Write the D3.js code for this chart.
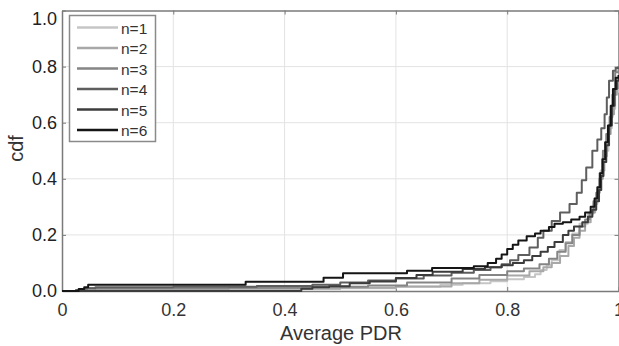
<!DOCTYPE html>
<html><head><meta charset="utf-8">
<script src="https://cdn.jsdelivr.net/npm/d3@7"></script>
<style>body{margin:0;background:#fff}svg{display:block;font-family:"Liberation Sans",Arial,sans-serif}</style>
</head><body><svg id="c" width="619" height="346"></svg>
<script>
const seriesNames = ["n=1","n=2","n=3","n=4","n=5","n=6"];
const seriesColors = ["#c6c6c6","#a8a8a8","#858585","#5e5e5e","#3c3c3c","#151515"];
const xTicks = [0,0.2,0.4,0.6,0.8,1];
const yTicks = [0,0.2,0.4,0.6,0.8,1];
const xTickLabels = ["0","0.2","0.4","0.6","0.8","1"];
const yTickLabels = ["0.0","0.2","0.4","0.6","0.8","1.0"];

const s1 = [[0,0],[0.05,0.003],[0.1,0.005],[0.3,0.007],[0.5,0.01],[0.6,0.015],[0.68,0.022],[0.72,0.028],[0.77,0.035],[0.8,0.042],[0.83,0.05],[0.85,0.06],[0.86,0.075],[0.871,0.093],[0.88,0.11],[0.894,0.146],[0.905,0.175],[0.917,0.205],[0.93,0.24],[0.945,0.275],[0.955,0.31],[0.962,0.36],[0.968,0.43],[0.975,0.5],[0.982,0.58],[0.988,0.65],[0.994,0.71],[1,0.72]];
const s2 = [[0,0],[0.04,0.003],[0.06,0.006],[0.3,0.009],[0.5,0.012],[0.6,0.016],[0.7,0.028],[0.75,0.04],[0.8,0.055],[0.84,0.07],[0.865,0.085],[0.88,0.1],[0.895,0.125],[0.91,0.16],[0.92,0.19],[0.93,0.215],[0.94,0.245],[0.95,0.28],[0.958,0.33],[0.965,0.4],[0.972,0.48],[0.979,0.56],[0.986,0.63],[0.992,0.7],[0.997,0.74],[1,0.74]];
const s3 = [[0,0],[0.03,0.004],[0.045,0.01],[0.3,0.012],[0.45,0.015],[0.55,0.02],[0.62,0.03],[0.7,0.045],[0.75,0.057],[0.8,0.07],[0.83,0.08],[0.858,0.095],[0.875,0.115],[0.89,0.14],[0.905,0.17],[0.917,0.2],[0.93,0.23],[0.94,0.255],[0.948,0.28],[0.955,0.32],[0.96,0.35],[0.966,0.42],[0.972,0.5],[0.978,0.56],[0.984,0.62],[0.989,0.7],[0.994,0.78],[1,0.8]];
const s4 = [[0,0],[0.025,0.004],[0.04,0.01],[0.06,0.013],[0.2,0.015],[0.35,0.018],[0.45,0.022],[0.5,0.03],[0.55,0.037],[0.6,0.045],[0.65,0.055],[0.7,0.065],[0.74,0.075],[0.77,0.085],[0.79,0.095],[0.805,0.11],[0.82,0.128],[0.84,0.155],[0.855,0.19],[0.865,0.215],[0.88,0.25],[0.895,0.28],[0.912,0.31],[0.925,0.35],[0.934,0.395],[0.942,0.44],[0.953,0.5],[0.962,0.54],[0.969,0.58],[0.975,0.63],[0.979,0.69],[0.983,0.75],[0.99,0.785],[0.995,0.795],[1,0.8]];
const s5 = [[0,0],[0.43,0.008],[0.45,0.013],[0.48,0.017],[0.517,0.028],[0.553,0.034],[0.6,0.046],[0.637,0.057],[0.666,0.069],[0.72,0.078],[0.76,0.085],[0.79,0.092],[0.81,0.1],[0.83,0.11],[0.845,0.125],[0.86,0.14],[0.873,0.157],[0.885,0.175],[0.9,0.2],[0.91,0.215],[0.92,0.23],[0.935,0.245],[0.945,0.265],[0.953,0.29],[0.96,0.32],[0.965,0.36],[0.969,0.41],[0.973,0.46],[0.978,0.52],[0.983,0.59],[0.988,0.66],[0.993,0.72],[0.997,0.75],[1,0.76]];
const s6 = [[0,0],[0.03,0.007],[0.04,0.013],[0.047,0.022],[0.33,0.033],[0.47,0.047],[0.505,0.063],[0.62,0.072],[0.665,0.082],[0.74,0.088],[0.765,0.1],[0.78,0.115],[0.79,0.13],[0.8,0.15],[0.81,0.165],[0.82,0.18],[0.835,0.195],[0.85,0.205],[0.86,0.215],[0.875,0.228],[0.885,0.24],[0.9,0.245],[0.915,0.255],[0.93,0.265],[0.94,0.28],[0.95,0.3],[0.957,0.33],[0.962,0.37],[0.967,0.42],[0.971,0.47],[0.976,0.53],[0.981,0.59],[0.986,0.66],[0.99,0.72],[0.995,0.76],[1,0.77]];
const seriesData = [s1,s2,s3,s4,s5,s6];

const svg = d3.select("#c");
const L=62, R=618.5, T=10.5, B=291;
const x = d3.scaleLinear().domain([0,1]).range([L,R]);
const y = d3.scaleLinear().domain([0,1]).range([B,T]);

// grid
svg.append("g").selectAll("line").data(xTicks.slice(1,-1)).join("line")
  .attr("x1",d=>x(d)).attr("x2",d=>x(d)).attr("y1",T).attr("y2",B)
  .attr("stroke","#e3e3e3").attr("stroke-width",1);
svg.append("g").selectAll("line").data(yTicks.slice(1,-1)).join("line")
  .attr("x1",L).attr("x2",R).attr("y1",d=>y(d)).attr("y2",d=>y(d))
  .attr("stroke","#e3e3e3").attr("stroke-width",1);

// axes
const xAx = d3.axisBottom(x).tickValues(xTicks).tickFormat((d,i)=>xTickLabels[i]).tickSizeInner(-4).tickSizeOuter(0).tickPadding(12);
const yAx = d3.axisLeft(y).tickValues(yTicks).tickFormat((d,i)=>yTickLabels[i]).tickSizeInner(-4).tickSizeOuter(0).tickPadding(5);
const gx = svg.append("g").attr("transform",`translate(0,${B})`).call(xAx);
const gy = svg.append("g").attr("transform",`translate(${L},0)`).call(yAx);
// top/right ticks
svg.append("g").attr("transform",`translate(0,${T})`).call(d3.axisTop(x).tickValues(xTicks).tickFormat("").tickSizeInner(-4).tickSizeOuter(0));
svg.append("g").attr("transform",`translate(${R},0)`).call(d3.axisRight(y).tickValues(yTicks).tickFormat("").tickSizeInner(-4).tickSizeOuter(0));
svg.selectAll(".domain").attr("stroke","#7a7a7a").attr("stroke-width",1.5);
svg.selectAll(".tick line").attr("stroke","#7a7a7a");
[gx,gy].forEach(g=>g.selectAll("text").attr("font-size",18).attr("fill","#333").attr("font-family","Liberation Sans, Arial, sans-serif"));
gy.selectAll("text").attr("fill","#222");
gy.selectAll(".tick").filter(d=>d===1).select("text").attr("dy","0.75em");

// lines
const line = d3.line().x(d=>x(d[0])).y(d=>y(d[1])).curve(d3.curveStepAfter);
svg.append("g").selectAll("path").data(seriesData).join("path")
  .attr("d",line).attr("fill","none")
  .attr("stroke",(d,i)=>seriesColors[i]).attr("stroke-width",2).attr("stroke-linejoin","round");

// labels
svg.append("text").attr("x",341).attr("y",340).attr("text-anchor","middle")
  .attr("font-size",20).attr("fill","#333").text("Average PDR");
svg.append("text").attr("transform","translate(23,148.5) rotate(-90)").attr("text-anchor","middle")
  .attr("font-size",20).attr("fill","#333").text("cdf");

// legend
const lg = svg.append("g");
lg.append("rect").attr("x",69.5).attr("y",15.5).attr("width",86).attr("height",126)
  .attr("fill","#fff").attr("stroke","#8a8a8a").attr("stroke-width",1.5);
const ly = d3.scalePoint().domain(seriesNames).range([27.5,130]);
seriesNames.forEach((n,i)=>{
  lg.append("line").attr("x1",77).attr("x2",118).attr("y1",ly(n)).attr("y2",ly(n))
    .attr("stroke",seriesColors[i]).attr("stroke-width",2.5);
  lg.append("text").attr("x",121).attr("y",ly(n)+6).attr("font-size",15.5).attr("fill","#333").text(n);
});
</script></body></html>
